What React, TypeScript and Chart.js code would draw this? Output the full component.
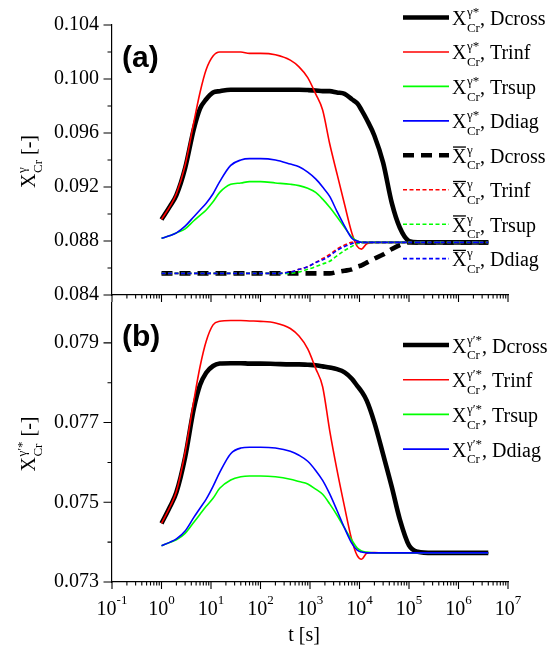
import React, { useEffect, useRef } from "react";
import { Chart, registerables } from "chart.js";
Chart.register(...registerables);

const SERIF = '"Liberation Serif"';
const SANS = '"Liberation Sans"';

// time grid [s]
const TIME_S = [1, 1.5, 2, 3, 4.5, 6, 8, 11, 15, 25, 40, 60, 100, 200, 400, 600, 900, 1300, 1800, 2500, 3500, 5000, 7000, 9000, 11000, 14000, 20000, 30000, 45000, 65000, 100000, 150000, 300000, 1000000, 4000000];

// panel (a): X_Cr^gamma* (solid)
const A_DCROSS = [0.0896, 0.0906, 0.0914, 0.0934, 0.0963, 0.0978, 0.0985, 0.0990, 0.0991, 0.0992, 0.0992, 0.0992, 0.0992, 0.0992, 0.0992, 0.0992, 0.09918, 0.09915, 0.0991, 0.0991, 0.0990, 0.0989, 0.0985, 0.0982, 0.0977, 0.0970, 0.0958, 0.0938, 0.0908, 0.0890, 0.0880, 0.0879, 0.0879, 0.0879, 0.0879];
const A_TRINF = [0.0896, 0.0906, 0.0915, 0.0936, 0.0968, 0.0990, 0.1007, 0.1017, 0.1020, 0.1020, 0.1020, 0.1019, 0.1019, 0.1018, 0.1014, 0.1009, 0.1001, 0.0989, 0.0977, 0.0952, 0.0930, 0.0907, 0.0886, 0.0876, 0.0874, 0.0878, 0.0879, 0.0879, 0.0879, 0.0879, 0.0879, 0.0879, 0.0879, 0.0879, 0.0879];
const A_TRSUP = [0.0882, 0.0884, 0.0886, 0.0889, 0.0895, 0.0899, 0.0903, 0.0909, 0.0916, 0.0922, 0.0923, 0.0924, 0.0924, 0.0923, 0.0922, 0.0921, 0.0919, 0.0916, 0.0911, 0.0905, 0.0898, 0.0890, 0.0883, 0.0880, 0.0879, 0.0879, 0.0879, 0.0879, 0.0879, 0.0879, 0.0879, 0.0879, 0.0879, 0.0879, 0.0879];
const A_DDIAG = [0.0882, 0.0884, 0.0886, 0.0891, 0.0898, 0.0903, 0.0908, 0.0915, 0.0924, 0.0936, 0.0940, 0.0941, 0.0941, 0.0940, 0.0937, 0.0935, 0.0931, 0.0926, 0.0920, 0.0913, 0.0902, 0.0891, 0.0882, 0.0880, 0.0879, 0.0879, 0.0879, 0.0879, 0.0879, 0.0879, 0.0879, 0.0879, 0.0879, 0.0879, 0.0879];
// panel (a): average X_Cr^gamma (dashed)
const A_DCROSS_AVG = [0.0856, 0.0856, 0.0856, 0.0856, 0.0856, 0.0856, 0.0856, 0.0856, 0.0856, 0.0856, 0.0856, 0.0856, 0.0856, 0.0856, 0.0856, 0.0856, 0.0856, 0.0856, 0.0856, 0.0856, 0.0857, 0.0858, 0.0859, 0.0861, 0.0862, 0.0864, 0.0867, 0.0870, 0.0874, 0.0877, 0.0879, 0.0879, 0.0879, 0.0879, 0.0879];
const A_TRINF_AVG = [0.0856, 0.0856, 0.0856, 0.0856, 0.0856, 0.0856, 0.0856, 0.0856, 0.0856, 0.0856, 0.0856, 0.0856, 0.0856, 0.0856, 0.0857, 0.0859, 0.0861, 0.0864, 0.0867, 0.0870, 0.0874, 0.0877, 0.0879, 0.0879, 0.0879, 0.0879, 0.0879, 0.0879, 0.0879, 0.0879, 0.0879, 0.0879, 0.0879, 0.0879, 0.0879];
const A_TRSUP_AVG = [0.0856, 0.0856, 0.0856, 0.0856, 0.0856, 0.0856, 0.0856, 0.0856, 0.0856, 0.0856, 0.0856, 0.0856, 0.0856, 0.0856, 0.0856, 0.0857, 0.0859, 0.0861, 0.0863, 0.0865, 0.0869, 0.0873, 0.0876, 0.0878, 0.0879, 0.0879, 0.0879, 0.0879, 0.0879, 0.0879, 0.0879, 0.0879, 0.0879, 0.0879, 0.0879];
const A_DDIAG_AVG = [0.0856, 0.0856, 0.0856, 0.0856, 0.0856, 0.0856, 0.0856, 0.0856, 0.0856, 0.0856, 0.0856, 0.0856, 0.0856, 0.0856, 0.0857, 0.0859, 0.0861, 0.0864, 0.0866, 0.0869, 0.0873, 0.0876, 0.0878, 0.0879, 0.0879, 0.0879, 0.0879, 0.0879, 0.0879, 0.0879, 0.0879, 0.0879, 0.0879, 0.0879, 0.0879];

// panel (b): X_Cr^gamma'*
const B_DCROSS = [0.07447, 0.07490, 0.07525, 0.07613, 0.07735, 0.07794, 0.07825, 0.07842, 0.07848, 0.07849, 0.07849, 0.07848, 0.07848, 0.07847, 0.07846, 0.07846, 0.07845, 0.07844, 0.07841, 0.07838, 0.07834, 0.07826, 0.07810, 0.07792, 0.07778, 0.07755, 0.07700, 0.07620, 0.07538, 0.07458, 0.07392, 0.07376, 0.07373, 0.07373, 0.07373];
const B_TRINF = [0.07447, 0.07490, 0.07527, 0.07625, 0.07755, 0.07840, 0.07904, 0.07945, 0.07954, 0.07956, 0.07956, 0.07955, 0.07954, 0.07950, 0.07936, 0.07917, 0.07885, 0.07836, 0.07790, 0.07680, 0.07582, 0.07488, 0.07405, 0.07366, 0.07357, 0.07372, 0.07374, 0.07373, 0.07373, 0.07373, 0.07373, 0.07373, 0.07373, 0.07373, 0.07373];
const B_TRSUP = [0.07391, 0.07400, 0.07406, 0.07422, 0.07450, 0.07470, 0.07490, 0.07510, 0.07535, 0.07556, 0.07564, 0.07566, 0.07566, 0.07564, 0.07558, 0.07552, 0.07546, 0.07533, 0.07520, 0.07496, 0.07468, 0.07435, 0.07405, 0.07385, 0.07378, 0.07375, 0.07373, 0.07373, 0.07373, 0.07373, 0.07373, 0.07373, 0.07373, 0.07373, 0.07373];
const B_DDIAG = [0.07391, 0.07400, 0.07408, 0.07428, 0.07462, 0.07485, 0.07508, 0.07540, 0.07575, 0.07622, 0.07636, 0.07638, 0.07638, 0.07636, 0.07628, 0.07618, 0.07603, 0.07580, 0.07555, 0.07521, 0.07480, 0.07435, 0.07397, 0.07380, 0.07375, 0.07373, 0.07373, 0.07373, 0.07373, 0.07373, 0.07373, 0.07373, 0.07373, 0.07373, 0.07373];

const SERIES_NAMES = ["Dcross", "Trinf", "Trsup", "Ddiag"];
const SERIES_COLORS = ["#000000", "#ff0000", "#00ff00", "#0000ff"];

const X_DECADES = [0.1, 1, 10, 100, 1e3, 1e4, 1e5, 1e6, 1e7];
const X_EXPONENTS = ["-1", "0", "1", "2", "3", "4", "5", "6", "7"];
const Y_TICKS_A = [0.084, 0.088, 0.092, 0.096, 0.1, 0.104];
const Y_MINOR_A = [0.086, 0.09, 0.094, 0.098, 0.102];
const Y_TICKS_B = [0.073, 0.075, 0.077, 0.079];
const Y_MINOR_B = [0.074, 0.076, 0.078];

type Entry = { values: number[]; color: string; width: number; dash: number[]; bar: boolean; sup: string; name: string };

function solidEntries(vals: number[][], sup: string): Entry[] {
  return vals.map((v, i) => ({
    values: v, color: SERIES_COLORS[i], width: i === 0 ? 4.6 : 1.6, dash: [], bar: false, sup, name: SERIES_NAMES[i],
  }));
}
function dashedEntries(vals: number[][], sup: string): Entry[] {
  return vals.map((v, i) => ({
    values: v, color: SERIES_COLORS[i], width: i === 0 ? 4.6 : 1.6, dash: i === 0 ? [11, 7] : [4, 2.5], bar: true, sup, name: SERIES_NAMES[i],
  }));
}

const ENTRIES_A: Entry[] = [
  ...solidEntries([A_DCROSS, A_TRINF, A_TRSUP, A_DDIAG], "γ*"),
  ...dashedEntries([A_DCROSS_AVG, A_TRINF_AVG, A_TRSUP_AVG, A_DDIAG_AVG], "γ"),
];
const ENTRIES_B: Entry[] = solidEntries([B_DCROSS, B_TRINF, B_TRSUP, B_DDIAG], "γ′*");

function drawSym(ctx: CanvasRenderingContext2D, x: number, y: number, sup: string, sub: string, bar: boolean, size: number, draw: boolean) {
  ctx.font = `${size}px ${SERIF}`;
  const wX = ctx.measureText("X").width;
  if (draw) {
    ctx.fillText("X", x, y);
    if (bar) ctx.fillRect(x + 1, y - size * 0.66 - 3.2, wX - 1.5, 1.3);
  }
  const s = Math.round(size * 0.65);
  ctx.font = `${s}px ${SERIF}`;
  const ws = ctx.measureText(sup).width;
  const wb = ctx.measureText(sub).width;
  const xs = x + wX + 0.5;
  if (draw) {
    ctx.fillText(sup, xs, y - size * 0.45);
    ctx.fillText(sub, xs, y + size * 0.33);
  }
  return xs + Math.max(ws, wb);
}

function drawYTitle(ctx: CanvasRenderingContext2D, cx: number, cy: number, sup: string) {
  ctx.save();
  ctx.translate(cx, cy);
  ctx.rotate(-Math.PI / 2);
  ctx.fillStyle = "#000";
  ctx.textAlign = "left";
  ctx.textBaseline = "alphabetic";
  const end = drawSym(ctx, 0, 0, sup, "Cr", false, 20, false);
  ctx.font = `20px ${SERIF}`;
  const wr = ctx.measureText(" [-]").width;
  const x0 = -(end + wr) / 2;
  const e2 = drawSym(ctx, x0, 0, sup, "Cr", false, 20, true);
  ctx.font = `20px ${SERIF}`;
  ctx.fillText(" [-]", e2, 0);
  ctx.restore();
}

function drawLegend(ctx: CanvasRenderingContext2D, entries: Entry[], y0: number, dy: number) {
  entries.forEach((e, i) => {
    const y = y0 + i * dy;
    ctx.save();
    ctx.strokeStyle = e.color;
    ctx.lineWidth = e.width;
    ctx.setLineDash(e.dash);
    ctx.beginPath();
    ctx.moveTo(403, y);
    ctx.lineTo(449, y);
    ctx.stroke();
    ctx.restore();
    ctx.save();
    ctx.fillStyle = "#000";
    ctx.textAlign = "left";
    ctx.textBaseline = "alphabetic";
    const xe = drawSym(ctx, 452, y + 7.5, e.sup, "Cr", e.bar, 20, true);
    ctx.font = `20px ${SERIF}`;
    ctx.fillText(", " + e.name, xe, y + 7.5);
    ctx.restore();
  });
}

function drawTicks(chart: any, yMajor: number[], yMinor: number[]) {
  const ctx: CanvasRenderingContext2D = chart.ctx;
  const xs = chart.scales.x;
  const ys = chart.scales.y;
  const { left, bottom } = chart.chartArea;
  ctx.save();
  ctx.strokeStyle = "#000";
  ctx.lineWidth = 1.1;
  ctx.beginPath();
  yMajor.forEach((v) => {
    const p = ys.getPixelForValue(v);
    ctx.moveTo(left, p);
    ctx.lineTo(left - 8.5, p);
  });
  yMinor.forEach((v) => {
    const p = ys.getPixelForValue(v);
    ctx.moveTo(left, p);
    ctx.lineTo(left - 4.5, p);
  });
  X_DECADES.forEach((d, i) => {
    const p = xs.getPixelForValue(d);
    ctx.moveTo(p, bottom);
    ctx.lineTo(p, bottom + 7);
    if (i < X_DECADES.length - 1) {
      for (let k = 2; k <= 9; k++) {
        const q = xs.getPixelForValue(d * k);
        ctx.moveTo(q, bottom);
        ctx.lineTo(q, bottom + 3.5);
      }
    }
  });
  ctx.stroke();
  ctx.restore();
}

function makeConfig(panel: "a" | "b"): any {
  const entries = panel === "a" ? ENTRIES_A : ENTRIES_B;
  const yMajor = panel === "a" ? Y_TICKS_A : Y_TICKS_B;
  const yMinor = panel === "a" ? Y_MINOR_A : Y_MINOR_B;
  const n = entries.length;
  const datasets = entries.map((e, i) => ({
    label: e.name,
    data: TIME_S.map((t, k) => ({ x: t, y: e.values[k] })),
    borderColor: e.color,
    backgroundColor: e.color,
    borderWidth: e.width,
    borderDash: e.dash,
    borderCapStyle: "butt",
    pointRadius: 0,
    fill: false,
    cubicInterpolationMode: "monotone",
    order: n - i,
  }));
  const plugin = {
    id: "decor" + panel,
    afterDraw(chart: any) {
      const ctx: CanvasRenderingContext2D = chart.ctx;
      drawTicks(chart, yMajor, yMinor);
      const { left, right, top, bottom } = chart.chartArea;
      ctx.save();
      ctx.fillStyle = "#000";
      ctx.textAlign = "left";
      ctx.textBaseline = "alphabetic";
      ctx.font = `bold 30px ${SANS}`;
      ctx.fillText(panel === "a" ? "(a)" : "(b)", 122, top + (panel === "a" ? 41.5 : 42.5));
      ctx.restore();
      drawYTitle(ctx, 35, (top + bottom) / 2 + 1.5, panel === "a" ? "γ" : "γ′*");
      if (panel === "a") {
        drawLegend(ctx, entries, 17.5, 34.45);
      } else {
        drawLegend(ctx, entries, 345, 34.7);
        const xs = chart.scales.x;
        ctx.save();
        ctx.fillStyle = "#000";
        ctx.textAlign = "left";
        ctx.textBaseline = "alphabetic";
        X_DECADES.forEach((d, i) => {
          const px = xs.getPixelForValue(d);
          ctx.font = `20px ${SERIF}`;
          const w10 = ctx.measureText("10").width;
          ctx.font = `13px ${SERIF}`;
          const we = ctx.measureText(X_EXPONENTS[i]).width;
          const x0 = px - (w10 + we) / 2;
          ctx.font = `20px ${SERIF}`;
          ctx.fillText("10", x0, bottom + 33);
          ctx.font = `13px ${SERIF}`;
          ctx.fillText(X_EXPONENTS[i], x0 + w10, bottom + 22);
        });
        ctx.font = `20px ${SERIF}`;
        ctx.textAlign = "center";
        ctx.fillText("t [s]", (left + right) / 2 - 6, bottom + 59);
        ctx.restore();
      }
    },
  };
  return {
    type: "line",
    data: { datasets },
    plugins: [plugin],
    options: {
      animation: false,
      responsive: false,
      devicePixelRatio: 1,
      events: [],
      layout: { padding: panel === "a" ? { top: 24, right: 42, left: 0, bottom: 0 } : { top: 303, right: 42, left: 0, bottom: 0 } },
      plugins: { legend: { display: false }, tooltip: { enabled: false }, title: { display: false } },
      scales: {
        x: {
          type: "logarithmic",
          min: 0.1,
          max: 1e7,
          position: "bottom",
          grid: { display: false, drawTicks: false },
          border: { display: true, color: "#000", width: 1.2 },
          ticks: { display: false },
          afterFit: (s: any) => { s.height = panel === "a" ? 17 : 67; },
        },
        y: {
          type: "linear",
          min: panel === "a" ? 0.084 : 0.073,
          max: panel === "a" ? 0.104 : 0.08,
          position: "left",
          grid: { display: false, drawTicks: false },
          border: { display: true, color: "#000", width: 1.2 },
          ticks: {
            color: "#000",
            padding: 13,
            font: { family: SERIF, size: 20 },
            callback: (v: any) => Number(v).toFixed(3),
          },
          afterBuildTicks: (s: any) => { s.ticks = yMajor.map((v) => ({ value: v })); },
          afterFit: (s: any) => { s.width = 112; },
        },
      },
    },
  };
}

export default function App() {
  const refA = useRef<HTMLCanvasElement>(null);
  const refB = useRef<HTMLCanvasElement>(null);
  useEffect(() => {
    const a = new Chart(refA.current as HTMLCanvasElement, makeConfig("a"));
    const b = new Chart(refB.current as HTMLCanvasElement, makeConfig("b"));
    return () => { a.destroy(); b.destroy(); };
  }, []);
  return (
    <div style={{ position: "absolute", left: 0, top: 0, width: 550, height: 649, background: "#fff" }}>
      <canvas ref={refA} width={550} height={320} style={{ position: "absolute", left: 0, top: 0, width: 550, height: 320 }} />
      <canvas ref={refB} width={550} height={649} style={{ position: "absolute", left: 0, top: 0, width: 550, height: 649 }} />
    </div>
  );
}
